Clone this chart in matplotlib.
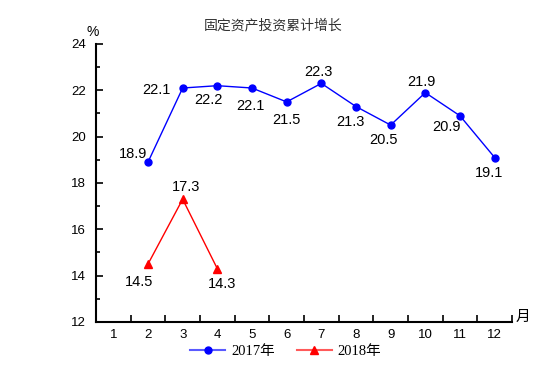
import matplotlib
matplotlib.use('Agg')
import matplotlib.pyplot as plt
from matplotlib.ticker import MultipleLocator, FixedLocator
from matplotlib.lines import Line2D

months = list(range(1, 13))
m2017 = [2, 3, 4, 5, 6, 7, 8, 9, 10, 11, 12]
v2017 = [18.9, 22.1, 22.2, 22.1, 21.5, 22.3, 21.3, 20.5, 21.9, 20.9, 19.1]
m2018 = [2, 3, 4]
v2018 = [14.5, 17.3, 14.3]

# label offsets in pixels (dx, dy with dy positive = up)
off2017 = [(-15, 8), (-26, -2), (-9, -14), (-2, -18), (0, -18), (-3, 11),
           (-6, -15), (-7, -15), (-4, 11), (-13, -11), (-6, -15)]
off2018 = [(-9, -18), (3, 12), (5, -15)]

num_font = ['Liberation Sans', 'DejaVu Sans']
cjk_font = ['Noto Sans CJK SC', 'DejaVu Sans']
leg_font = ['Liberation Serif', 'Noto Sans CJK SC']

fig = plt.figure(figsize=(5.52, 3.9), dpi=100)
ax = fig.add_axes([0.1739, 0.1744, 0.7536, 0.7128])

ax.plot(m2017, v2017, color='blue', lw=1, marker='o', ms=5)
ax.plot(m2018, v2018, color='red', lw=1, marker='^', ms=5.5)

for m, v, (dx, dy) in zip(m2017, v2017, off2017):
    ax.annotate(f'{v:.1f}', (m, v), xytext=(dx, dy), textcoords='offset pixels',
                ha='center', va='center', fontsize=10.5, family=num_font)
for m, v, (dx, dy) in zip(m2018, v2018, off2018):
    ax.annotate(f'{v:.1f}', (m, v), xytext=(dx, dy), textcoords='offset pixels',
                ha='center', va='center', fontsize=10.5, family=num_font)

ax.set_xlim(0.5, 12.5)
ax.set_ylim(12, 24)
ax.set_xticks(months)
ax.set_xticklabels([str(m) for m in months], family=num_font, fontsize=9.5)
ax.xaxis.set_minor_locator(FixedLocator([i + 0.5 for i in range(0, 13)]))
ax.tick_params(axis='x', which='major', length=0, pad=5)
ax.tick_params(axis='x', which='minor', direction='in', length=5, width=1.2)

ax.yaxis.set_major_locator(MultipleLocator(2))
ax.yaxis.set_minor_locator(MultipleLocator(1))
ax.tick_params(axis='y', which='major', direction='in', length=5, width=1.2, pad=7)
ax.tick_params(axis='y', which='minor', direction='in', length=3, width=1.2)
for lab in ax.get_yticklabels():
    lab.set_family(num_font)
    lab.set_fontsize(9.5)

for s in ['top', 'right']:
    ax.spines[s].set_visible(False)
for s in ['left', 'bottom']:
    ax.spines[s].set_linewidth(1.5)

fig.text(0.495, 0.935, '固定资产投资累计增长', ha='center', va='center',
         fontsize=10, family=cjk_font, color='#333333')
fig.text(0.168, 0.918, '%', ha='center', va='center', fontsize=10, family=num_font)
fig.text(0.948, 0.187, '月', ha='center', va='center', fontsize=10.5, family=cjk_font)

handles = [Line2D([], [], color='#5a5aff', lw=1.5, marker='o', ms=5,
                  markerfacecolor='blue', markeredgecolor='blue'),
           Line2D([], [], color='#ff5a5a', lw=1.5, marker='^', ms=5.5,
                  markerfacecolor='red', markeredgecolor='red')]
fig.legend(handles, ['2017年', '2018年'], loc='center', bbox_to_anchor=(0.518, 0.1),
           ncol=2, frameon=False, prop={'family': leg_font, 'size': 10.5},
           handlelength=2.4, columnspacing=1.5, handletextpad=0.4)

fig.savefig('out.png', dpi=100)
